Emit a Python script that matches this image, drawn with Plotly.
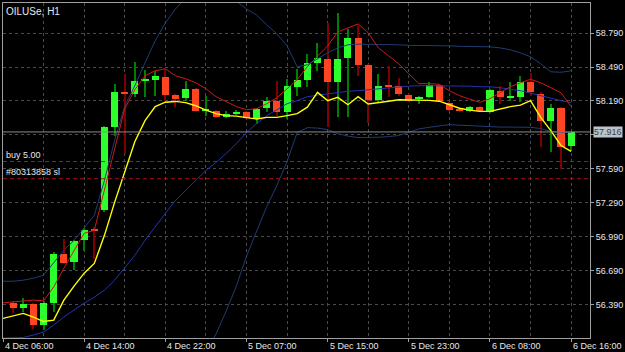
import plotly.graph_objects as go

# ---------------- data ----------------
symbol_title = "OILUSe, H1"

opens  = [56.399, 56.360, 56.390, 56.207, 56.404, 56.834, 56.761, 56.957, 57.050, 57.222,
          57.957, 58.268, 58.252, 58.373, 58.378, 58.404, 58.243, 58.213, 58.296, 58.102,
          58.098, 58.051, 58.075, 58.089, 58.031, 58.125, 58.193, 58.089, 58.316, 58.375,
          58.522, 58.561, 58.354, 58.566, 58.746, 58.508, 58.201, 58.325, 58.319, 58.243,
          58.213, 58.222, 58.334, 58.169, 58.107, 58.104, 58.134, 58.096, 58.281, 58.224,
          58.228, 58.360, 58.252, 58.010, 58.128, 57.796]
highs  = [56.419, 56.445, 56.401, 56.419, 56.854, 56.972, 56.957, 57.063, 57.075, 57.972,
          58.340, 58.428, 58.531, 58.466, 58.457, 58.475, 58.254, 58.369, 58.307, 58.237,
          58.113, 58.104, 58.113, 58.104, 58.131, 58.222, 58.369, 58.384, 58.472, 58.605,
          58.707, 58.884, 58.972, 58.825, 58.854, 58.519, 58.428, 58.501, 58.393, 58.254,
          58.237, 58.354, 58.343, 58.184, 58.113, 58.148, 58.148, 58.299, 58.325, 58.354,
          58.413, 58.442, 58.266, 58.163, 58.140, 57.918]
lows   = [56.313, 56.325, 56.169, 56.163, 56.325, 56.745, 56.693, 56.863, 56.796, 57.204,
          57.884, 57.722, 58.222, 58.222, 58.237, 58.193, 58.140, 58.193, 58.096, 58.060,
          58.043, 58.040, 58.069, 58.034, 57.987, 58.089, 58.060, 58.031, 58.237, 58.310,
          58.457, 57.957, 58.045, 58.045, 58.413, 57.999, 58.178, 58.222, 58.237, 58.184,
          58.163, 58.213, 58.184, 58.104, 58.096, 58.096, 58.089, 58.087, 58.163, 58.193,
          58.178, 58.237, 57.787, 57.736, 57.590, 57.745]
closes = [56.355, 56.390, 56.207, 56.401, 56.840, 56.757, 56.951, 57.052, 57.041, 57.957,
          58.272, 58.259, 58.369, 58.378, 58.407, 58.246, 58.208, 58.296, 58.098, 58.104,
          58.051, 58.072, 58.096, 58.040, 58.119, 58.193, 58.089, 58.319, 58.378, 58.522,
          58.566, 58.354, 58.561, 58.746, 58.510, 58.201, 58.319, 58.316, 58.252, 58.193,
          58.228, 58.331, 58.193, 58.111, 58.102, 58.134, 58.098, 58.287, 58.222, 58.228,
          58.358, 58.266, 58.010, 58.128, 57.787, 57.916]

# indicator values, one per bar starting one bar before the first candle
red_ma = [56.404, 56.410, 56.419, 56.428, 56.422, 56.545, 56.710, 56.869, 57.019, 57.045,
          57.398, 57.751, 58.122, 58.290, 58.413, 58.457, 58.475, 58.413, 58.387, 58.351,
          58.298, 58.228, 58.184, 58.140, 58.113, 58.122, 58.166, 58.219, 58.298, 58.378,
          58.493, 58.590, 58.678, 58.801, 58.837, 58.872, 58.793, 58.660, 58.590, 58.519,
          58.431, 58.343, 58.343, 58.338, 58.281, 58.237, 58.206, 58.178, 58.210, 58.263,
          58.316, 58.351, 58.382, 58.351, 58.307, 58.263, 58.140]
yellow_ma = [56.266, 56.287, 56.310, 56.278, 56.238, 56.251, 56.428, 56.551, 56.666, 56.752,
             57.001, 57.293, 57.566, 57.831, 58.016, 58.140, 58.179, 58.186, 58.175, 58.148,
             58.109, 58.078, 58.060, 58.056, 58.043, 58.031, 58.045, 58.045, 58.060, 58.078,
             58.135, 58.266, 58.193, 58.222, 58.157, 58.228, 58.163, 58.178, 58.188, 58.201,
             58.201, 58.199, 58.195, 58.188, 58.157, 58.126, 58.109, 58.098, 58.098, 58.122,
             58.140, 58.153, 58.193, 58.045, 57.928, 57.796, 57.744]
bb_upper = [56.595, 56.595, 56.604, 56.622, 56.648, 56.763, 56.869, 56.957, 57.063, 57.178,
            57.487, 57.840, 58.148, 58.325, 58.528, 58.722, 58.881, 59.004, 59.101, 59.163,
            59.181, 59.163, 59.119, 59.075, 59.004, 58.951, 58.863, 58.784, 58.678, 58.493,
            58.510, 58.563, 58.616, 58.660, 58.687, 58.693, 58.693, 58.691, 58.687, 58.687,
            58.682, 58.682, 58.678, 58.678, 58.678, 58.674, 58.674, 58.669, 58.669, 58.660,
            58.643, 58.616, 58.581, 58.519, 58.448, 58.444, 58.457]
bb_middle = [56.092, 56.092, 56.097, 56.119, 56.145, 56.207, 56.278, 56.340, 56.401, 56.454,
             56.516, 56.604, 56.719, 56.825, 56.957, 57.081, 57.195, 57.310, 57.398, 57.487,
             57.575, 57.646, 57.725, 57.813, 57.910, 57.990, 58.060, 58.113, 58.166, 58.193,
             58.228, 58.241, 58.254, 58.263, 58.276, 58.281, 58.290, 58.299, 58.303, 58.312,
             58.321, 58.325, 58.325, 58.325, 58.321, 58.321, 58.321, 58.316, 58.316, 58.307,
             58.294, 58.281, 58.259, 58.237, 58.210, 58.193, 58.175]
bb_lower = [55.589, 55.589, 55.590, 55.616, 55.642, 55.651, 55.687, 55.723, 55.739, 55.730,
            55.545, 55.368, 55.290, 55.325, 55.386, 55.440, 55.509, 55.616, 55.695, 55.811,
            55.969, 56.129, 56.331, 56.551, 56.816, 57.029, 57.257, 57.442, 57.654, 57.910,
            57.954, 57.950, 57.937, 57.901, 57.879, 57.866, 57.866, 57.869, 57.875, 57.884,
            57.913, 57.943, 57.957, 57.972, 57.981, 57.976, 57.972, 57.963, 57.963, 57.959,
            57.959, 57.959, 57.957, 57.946, 57.919, 57.913, 57.913]

price_ticks = [56.390, 56.690, 56.990, 57.290, 57.590, 57.890, 58.190, 58.490, 58.790]
time_label_bars = [-1, 7, 15, 23, 31, 39, 47, 55]
time_labels = ["4 Dec 06:00", "4 Dec 14:00", "4 Dec 22:00", "5 Dec 07:00",
               "5 Dec 15:00", "5 Dec 23:00", "6 Dec 08:00", "6 Dec 16:00"]
grid_minor_bars = [3, 11, 19, 27, 35, 43, 51]

bid_price = 57.916
order_price = 57.654
order_label = "buy 5.00"
sl_price = 57.502
sl_label = "#80313858 sl"

# ---------------- styles ----------------
BULL_BODY = "#2cff2c"
BEAR_BODY = "#ff4422"
BULL_WICK = "#008000"
BEAR_WICK = "#800000"
GRID = "#4a4a4a"
FRAME = "#a0a0a0"
TXT = "#e8e8e8"
FONT = "Liberation Sans"

n = len(opens)
bx = list(range(n))
ix = list(range(-1, n))
up = [c >= o for o, c in zip(opens, closes)]

fig = go.Figure()

# wicks
fig.add_trace(go.Bar(
    x=bx, y=[h - l for h, l in zip(highs, lows)], base=lows, width=0.1,
    marker=dict(color=[BULL_WICK if u else BEAR_WICK for u in up], line=dict(width=0)),
    hoverinfo="skip", showlegend=False))
# bodies
fig.add_trace(go.Bar(
    x=bx, y=[max(abs(c - o), 0.009) for o, c in zip(opens, closes)],
    base=[min(o, c) for o, c in zip(opens, closes)], width=0.7,
    marker=dict(color=[BULL_BODY if u else BEAR_BODY for u in up], line=dict(width=0)),
    hoverinfo="skip", showlegend=False))

# indicators
fig.add_trace(go.Scatter(x=ix, y=bb_upper, mode="lines", line=dict(color="#1f3d72", width=1), showlegend=False))
fig.add_trace(go.Scatter(x=ix, y=bb_lower, mode="lines", line=dict(color="#1f3d72", width=1), showlegend=False))
fig.add_trace(go.Scatter(x=ix, y=bb_middle, mode="lines", line=dict(color="#2233b0", width=1), showlegend=False))
fig.add_trace(go.Scatter(x=ix, y=red_ma, mode="lines", line=dict(color="#d01818", width=1), showlegend=False))
fig.add_trace(go.Scatter(x=ix, y=yellow_ma, mode="lines", line=dict(color="#ffff00", width=1.4), showlegend=False))

# horizontal lines
fig.add_hline(y=bid_price, line=dict(color="#8c8c8c", width=1))
fig.add_hline(y=order_price, line=dict(color="#0a6a0a", width=1, dash="4px,3px"))
fig.add_hline(y=sl_price, line=dict(color="#b01010", width=1, dash="4px,3px"))

ann = []
ann.append(dict(text=symbol_title, x=0, y=1, xref="paper", yref="paper", xanchor="left", yanchor="top",
                xshift=1, yshift=-1, showarrow=False, font=dict(family=FONT, size=10, color=TXT)))
ann.append(dict(text=order_label, x=0, y=order_price, xref="paper", yref="y", xanchor="left", yanchor="bottom",
                xshift=1, showarrow=False, font=dict(family=FONT, size=9, color=TXT)))
ann.append(dict(text=sl_label, x=0, y=sl_price, xref="paper", yref="y", xanchor="left", yanchor="bottom",
                xshift=1, showarrow=False, font=dict(family=FONT, size=9, color=TXT)))
ann.append(dict(text=f"{bid_price:.3f}", x=1, y=bid_price, xref="paper", yref="y", xanchor="left", yanchor="middle",
                xshift=3, showarrow=False, bgcolor="#b8c4d0", borderpad=0,
                font=dict(family=FONT, size=9, color="#404040")))
for b, t in zip(time_label_bars, time_labels):
    ann.append(dict(text=t, x=b, y=0, xref="x", yref="paper", xanchor="left", yanchor="top",
                    yshift=-1, showarrow=False, font=dict(family=FONT, size=9, color=TXT)))

fig.update_layout(
    width=625, height=352,
    margin=dict(l=2, r=33, t=2, b=14),
    paper_bgcolor="black", plot_bgcolor="black",
    barmode="overlay", bargap=0, showlegend=False,
    annotations=ann,
    xaxis=dict(range=[-1.0, 56.86], showticklabels=False,
               tickmode="array", tickvals=time_label_bars, ticks="outside", ticklen=3, tickcolor=FRAME,
               showgrid=True, gridcolor=GRID, griddash="3px,3px", gridwidth=1,
               minor=dict(tickmode="array", tickvals=grid_minor_bars, showgrid=True,
                          gridcolor=GRID, griddash="3px,3px", ticks=""),
               showline=True, linecolor=FRAME, linewidth=1, mirror=True, zeroline=False,
               fixedrange=True),
    yaxis=dict(range=[56.0925, 59.057], side="right",
               tickmode="array", tickvals=price_ticks,
               ticktext=[("" if abs(v - 57.89) < 1e-6 else f"{v:.3f}") for v in price_ticks],
               ticks="outside", ticklen=3, tickcolor=FRAME,
               tickfont=dict(family=FONT, size=9, color=TXT),
               showgrid=True, gridcolor=GRID, griddash="3px,3px", gridwidth=1,
               showline=True, linecolor=FRAME, linewidth=1, mirror=True, zeroline=False,
               fixedrange=True),
)

fig.write_html("out.html")
